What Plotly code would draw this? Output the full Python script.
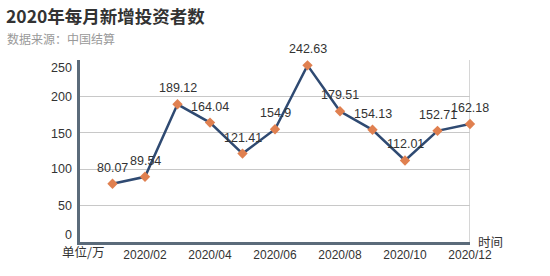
import plotly.graph_objects as go

months = list(range(1, 13))
values = [80.07, 89.54, 189.12, 164.04, 121.41, 154.9, 242.63, 179.51, 154.13, 112.01, 152.71, 162.18]
labels = ["80.07", "89.54", "189.12", "164.04", "121.41", "154.9", "242.63", "179.51", "154.13", "112.01", "152.71", "162.18"]
tick_vals = [2, 4, 6, 8, 10, 12]
tick_text = ["2020/02", "2020/04", "2020/06", "2020/08", "2020/10", "2020/12"]
y_ticks = [0, 50, 100, 150, 200, 250]
y_tick_text = ["0", "50", "100", "150", "200", "250"]

font = "Noto Sans CJK SC"
num_font = "Liberation Sans, Arial"
W, H = 550, 276
pl, pr, pt, pb = 80, 80, 60, 34
pw, ph = W - pl - pr, H - pt - pb

def px_x(x):
    return (x - pl) / pw

def px_y(y):
    return (H - y - pb) / ph

fig = go.Figure()
fig.add_trace(go.Scatter(
    x=months, y=values, mode="lines+markers",
    line=dict(color="#2f4a72", width=2.5),
    marker=dict(symbol="diamond", size=8, color="#e08050"),
    cliponaxis=False, hoverinfo="skip",
))

annotations = [
    dict(text="<b>2020年每月新增投资者数</b>", x=px_x(4), y=px_y(1), xref="paper", yref="paper",
         showarrow=False, xanchor="left", yanchor="top",
         font=dict(size=17.5, color="#333333", family=font)),
    dict(text="数据来源：中国结算", x=px_x(5), y=px_y(28), xref="paper", yref="paper",
         showarrow=False, xanchor="left", yanchor="top",
         font=dict(size=12, color="#999999", family=font)),
    dict(text="单位/万", x=px_x(60), y=px_y(251), xref="paper", yref="paper",
         showarrow=False, xanchor="left", yanchor="middle",
         font=dict(size=12.5, color="#333333", family=font)),
    dict(text="时间", x=px_x(476), y=px_y(241), xref="paper", yref="paper",
         showarrow=False, xanchor="left", yanchor="middle",
         font=dict(size=12.5, color="#333333", family=font)),
]
# y tick labels (shifted slightly like the reference)
yshifts = {0: 7, 50: 0, 100: 0, 150: -1, 200: -1, 250: -8}
for v, t in zip(y_ticks, y_tick_text):
    annotations.append(dict(text=t, x=0, y=v, xref="paper", yref="y", showarrow=False,
                            xanchor="right", yanchor="middle", xshift=-6, yshift=yshifts[v],
                            font=dict(size=12.5, color="#333333", family=num_font)))
# data labels
for m, v, t in zip(months, values, labels):
    annotations.append(dict(text=t, x=m, y=v, xref="x", yref="y", showarrow=False,
                            xanchor="center", yanchor="bottom", yshift=7,
                            font=dict(size=12.5, color="#333333", family=num_font)))

fig.update_layout(
    width=W, height=H,
    margin=dict(l=pl, r=pr, t=pt, b=pb),
    paper_bgcolor="white", plot_bgcolor="white",
    showlegend=False,
    font=dict(family=font, color="#333333"),
    xaxis=dict(range=[0, 12], tickvals=tick_vals, ticktext=tick_text,
               showgrid=False, zeroline=False, showline=True,
               linecolor="#5b6b7a", linewidth=3, ticks="",
               tickfont=dict(size=12, color="#333333", family=num_font)),
    yaxis=dict(range=[0, 250], tickvals=y_ticks, showticklabels=False,
               showgrid=True, gridcolor="#c8c8c8", gridwidth=1, zeroline=False,
               showline=True, linecolor="#5b6b7a", linewidth=3, ticks=""),
    shapes=[dict(type="line", xref="x", yref="y", x0=12, x1=12, y0=0, y1=250,
                 line=dict(color="#c8c8c8", width=1.5), layer="below")],
    annotations=annotations,
)
fig.write_html("out.html")
